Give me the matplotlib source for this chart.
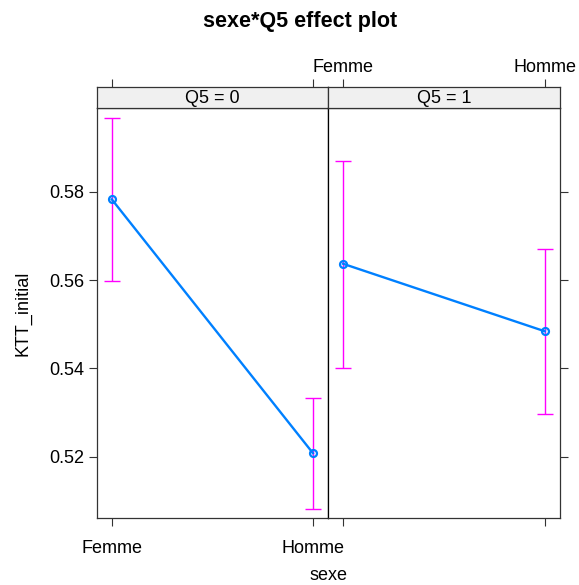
import matplotlib
matplotlib.use("Agg")
import matplotlib.pyplot as plt

plt.rcParams['font.family'] = ['Liberation Sans', 'DejaVu Sans']

sexe = ["Femme", "Homme"]
panels = ["Q5 = 0", "Q5 = 1"]
fit_q0 = [0.5783, 0.5208]
lower_q0 = [0.5598, 0.5082]
upper_q0 = [0.5967, 0.5334]
fit_q1 = [0.5637, 0.5484]
lower_q1 = [0.5401, 0.5297]
upper_q1 = [0.5871, 0.5670]
yticks = [0.52, 0.54, 0.56, 0.58]

fits = [fit_q0, fit_q1]
lows = [lower_q0, lower_q1]
ups = [upper_q0, upper_q1]

W, H = 579, 585
fig = plt.figure(figsize=(W / 100, H / 100), dpi=100)

def fx(px):
    return px / W

def fy(py):
    return 1 - py / H

left0, right0, mid = 96.7, 560.0, 328.0
top, bot, strip_top = 108.0, 518.0, 86.7
edges = [(left0, mid), (mid, right0)]
xlim = (0.925, 2.075)
ylim = (0.5061, 0.5990)
xs = [1, 2]
spine_col = "#333333"
fs = 13

for i in range(2):
    l, r = edges[i]
    ax = fig.add_axes([fx(l), fy(bot), fx(r) - fx(l), fy(top) - fy(bot)])
    f, lo, up = fits[i], lows[i], ups[i]
    yerr = [[f[k] - lo[k] for k in range(2)], [up[k] - f[k] for k in range(2)]]
    ax.errorbar(xs, f, yerr=yerr, fmt="none", ecolor="#FF00FF", elinewidth=1.0,
                capsize=5.6, capthick=1.0, zorder=2)
    ax.plot(xs, f, color="#0080FF", lw=1.7, marker="o", ms=5, mfc="none",
            mec="#0080FF", mew=1.6, zorder=3)
    ax.set_xlim(*xlim)
    ax.set_ylim(*ylim)
    ax.set_xticks(xs)
    ax.set_yticks(yticks)
    ax.tick_params(direction="out", length=6, width=0.8, color=spine_col,
                   labelsize=fs, pad=3)
    for s in ax.spines.values():
        s.set_color(spine_col)
        s.set_linewidth(0.9)
    if i == 0:
        ax.set_xticklabels(sexe)
        ax.yaxis.set_ticks_position("left")
        ax.set_yticklabels([f"{v:.2f}" for v in yticks])
        ax.spines["right"].set_color("black")
        ax.set_ylabel("KTT_initial", fontsize=fs, labelpad=13)
        ax.tick_params(axis="x", pad=10)
    else:
        ax.set_xticklabels(["", ""])
        ax.yaxis.set_ticks_position("right")
        ax.set_yticklabels([])
        ax.spines["left"].set_color("black")
    ax.xaxis.set_ticks_position("bottom")

    sax = fig.add_axes([fx(l), fy(top), fx(r) - fx(l), fy(strip_top) - fy(top)])
    sax.set_facecolor("#F0F0F0")
    sax.set_xlim(*xlim)
    sax.set_ylim(0, 1)
    sax.set_yticks([])
    sax.set_xticks(xs)
    sax.xaxis.set_ticks_position("top")
    sax.tick_params(axis="x", direction="out", length=6, width=0.8,
                    color=spine_col, labelsize=fs, pad=2)
    if i == 1:
        sax.set_xticklabels(sexe)
    else:
        sax.set_xticklabels(["", ""])
    for s in sax.spines.values():
        s.set_color(spine_col)
        s.set_linewidth(0.9)
    sax.text(0.5, 0.45, panels[i], transform=sax.transAxes, ha="center",
             va="center", fontsize=fs)

fig.text(fx(328), fy(576), "sexe", ha="center", va="center", fontsize=fs)
fig.text(fx(300), fy(22), "sexe*Q5 effect plot", ha="center", va="center",
         fontsize=15.5, fontweight="bold")

fig.savefig("out.png", dpi=100)
